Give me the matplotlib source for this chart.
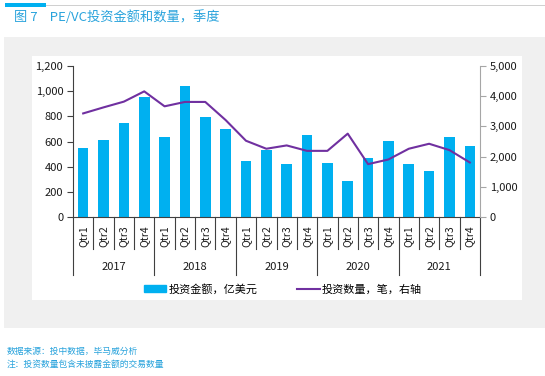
import matplotlib.pyplot as plt
from matplotlib.patches import Rectangle
from matplotlib.ticker import FuncFormatter
from matplotlib.lines import Line2D
import matplotlib.transforms as mtransforms

plt.rcParams['font.family'] = ['Noto Sans CJK SC', 'DejaVu Sans']

# data
years = ['2017', '2018', '2019', '2020', '2021']
quarters = ['Qtr1', 'Qtr2', 'Qtr3', 'Qtr4']
amount = [548, 612, 746, 955, 632, 1041, 795, 702, 443, 535,
          420, 650, 433, 287, 470, 605, 420, 364, 632, 563]      # 亿美元
deals = [3430, 3630, 3820, 4160, 3665, 3810, 3810, 3210, 2525, 2260,
         2370, 2190, 2190, 2760, 1750, 1905, 2260, 2425, 2215, 1805]  # 笔

title = '图 7    PE/VC投资金额和数量，季度'
bar_label = '投资金额，亿美元'
line_label = '投资数量，笔，右轴'
notes = ['数据来源：投中数据，毕马威分析', '注：投资数量包含未披露金额的交易数量']

bar_color = '#00B0F0'
line_color = '#7030A0'
title_color = '#29A3DC'

W, H = 545, 376
fig = plt.figure(figsize=(W / 100, H / 100), dpi=100)


def px_rect(x0, y0, x1, y1, color):
    # rectangle in pixel coords (top-left origin), drawn behind the axes
    fig.patches.append(Rectangle((x0 / W, 1 - y1 / H), (x1 - x0) / W, (y1 - y0) / H,
                                 transform=fig.transFigure, facecolor=color,
                                 edgecolor='none', zorder=-1))


# background panels
px_rect(4, 37, 545, 328, '#F0F0F0')
px_rect(32, 56, 522, 300, 'white')
px_rect(5, 3, 46, 7, '#00B0F0')
px_rect(46, 5, 545, 6.3, '#D0D0D0')

fig.text(14 / W, 1 - 17 / H, title, color=title_color, fontsize=9.5, va='center', ha='left')
fig.text(7 / W, 1 - 351 / H, notes[0], color=title_color, fontsize=6.3, va='center')
fig.text(7 / W, 1 - 364 / H, notes[1], color=title_color, fontsize=6.3, va='center')

ax = fig.add_axes([73 / W, 1 - 217 / H, (480 - 73) / W, (217 - 66) / H])
ax.patch.set_visible(False)
x = list(range(len(amount)))
ax.bar(x, amount, width=0.52, color=bar_color, zorder=2)
ax.set_xlim(-0.5, len(amount) - 0.5)
ax.set_ylim(0, 1200)
ax.set_yticks(range(0, 1201, 200))
ax.yaxis.set_major_formatter(FuncFormatter(lambda v, p: f'{v:,.0f}'))

ax2 = ax.twinx()
ax2.plot(x, deals, color=line_color, lw=1.5, zorder=3)
ax2.set_ylim(0, 5000)
ax2.set_yticks(range(0, 5001, 1000))
ax2.yaxis.set_major_formatter(FuncFormatter(lambda v, p: f'{v:,.0f}'))

for a in (ax, ax2):
    a.spines['top'].set_visible(False)
ax.spines['right'].set_visible(False)
ax.spines['left'].set_color('#404040')
ax.spines['bottom'].set_color('#404040')
ax2.spines['left'].set_visible(False)
ax2.spines['bottom'].set_visible(False)
ax2.spines['right'].set_color('#A6A6A6')
ax.tick_params(axis='y', length=4, color='#404040', labelsize=8, labelcolor='#1a1a1a', pad=3)
ax2.tick_params(axis='y', length=4, color='#A6A6A6', labelsize=8, labelcolor='#1a1a1a', pad=3)

# quarter labels
ax.set_xticks(x)
ax.set_xticklabels(quarters * len(years), rotation=90, fontsize=7.5, color='#1a1a1a')
ax.tick_params(axis='x', length=0, pad=6)

# category divider lines + year labels
trans = mtransforms.blended_transform_factory(ax.transData, ax.transAxes)
q_depth = -32 / 151
y_depth = -58 / 151
for i in range(len(amount) + 1):
    depth = y_depth if i % 4 == 0 else q_depth
    ax.plot([i - 0.5, i - 0.5], [0, depth], color='#404040', lw=0.8,
            transform=trans, clip_on=False)
for k, yr in enumerate(years):
    ax.text(4 * k + 1.5, -50 / 151, yr, transform=trans, ha='center', va='center',
            fontsize=8, color='#1a1a1a')

handles = [Rectangle((0, 0), 1, 1, color=bar_color),
           Line2D([0], [0], color=line_color, lw=1.5)]
fig.legend(handles, [bar_label, line_label], ncol=2, loc='center',
           bbox_to_anchor=(283 / W, 1 - 289 / H), frameon=False, fontsize=8,
           handlelength=2.0, handleheight=0.7, handletextpad=0.2, columnspacing=3.6)

fig.savefig('out.png', dpi=100)
